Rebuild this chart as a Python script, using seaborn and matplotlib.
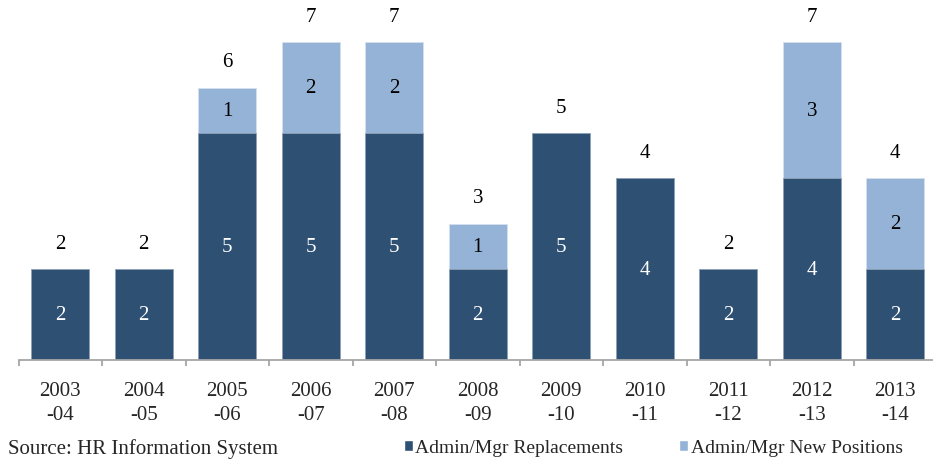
import matplotlib
matplotlib.use("Agg")
import matplotlib.pyplot as plt
import seaborn as sns
import pandas as pd
import numpy as np
from matplotlib.patches import Patch

years = ["2003\n-04", "2004\n-05", "2005\n-06", "2006\n-07", "2007\n-08", "2008\n-09",
         "2009\n-10", "2010\n-11", "2011\n-12", "2012\n-13", "2013\n-14"]
replacements = [2, 2, 5, 5, 5, 2, 5, 4, 2, 4, 2]
new_positions = [0, 0, 1, 2, 2, 1, 0, 0, 0, 3, 2]

dark = "#2E5073"
light = "#95B3D7"

sns.set_theme(style="white")
plt.rcParams["font.family"] = ["Liberation Serif", "DejaVu Serif"]

totals = [r + n for r, n in zip(replacements, new_positions)]
df = pd.DataFrame({"year": years, "rep": replacements, "new": new_positions, "total": totals})

fig = plt.figure(figsize=(9.33, 4.64), dpi=100)
ax = fig.add_axes([18.5 / 933, 103 / 464, 918.5 / 933, 361 / 464])

sns.barplot(data=df, x="year", y="total", color=light, saturation=1, width=0.7,
            edgecolor="#D5E0EE", linewidth=0.6, ax=ax)
sns.barplot(data=df, x="year", y="rep", color=dark, saturation=1, width=0.7,
            edgecolor="#8FA3B8", linewidth=0.6, ax=ax)

fs = 15
for i, (r, n, t) in enumerate(zip(replacements, new_positions, totals)):
    ax.text(i, r / 2, str(r), ha="center", va="center", color="white", fontsize=fs)
    if n > 0:
        ax.text(i, r + n / 2, str(n), ha="center", va="center", color="black", fontsize=fs)
    ax.text(i, t + 0.57, str(t), ha="center", va="center", color="black", fontsize=fs)

ax.set_xlim(-0.5, len(years) - 0.5)
ax.set_ylim(0, 7.95)
ax.set_xlabel("")
ax.set_ylabel("")
ax.set_yticks([])
for s in ["top", "right", "left"]:
    ax.spines[s].set_visible(False)
ax.spines["bottom"].set_color("#A6A6A6")
ax.spines["bottom"].set_linewidth(1.3)

ax.set_xticks(np.arange(len(years)))
ax.set_xticklabels(years, fontsize=fs, linespacing=1.4)
ax.set_xticks(np.arange(len(years) + 1) - 0.5, minor=True)
ax.tick_params(axis="x", which="major", length=0, pad=15)
ax.tick_params(axis="x", which="minor", length=4.5, color="#A6A6A6", width=1.3,
               direction="out", bottom=True)

fig.text(8 / 933, 1 - 449 / 464, "Source: HR Information System", fontsize=fs,
         ha="left", va="center")

handles = [Patch(facecolor=dark, label="Admin/Mgr Replacements"),
           Patch(facecolor=light, label="Admin/Mgr New Positions")]
fig.legend(handles=handles, loc="center left", bbox_to_anchor=(404 / 933, 1 - 449 / 464),
           ncol=2, frameon=False, fontsize=14, handlelength=0.45, handleheight=0.45,
           handletextpad=0.12, columnspacing=2.9, borderpad=0, borderaxespad=0)

fig.savefig("out.png", dpi=100)
